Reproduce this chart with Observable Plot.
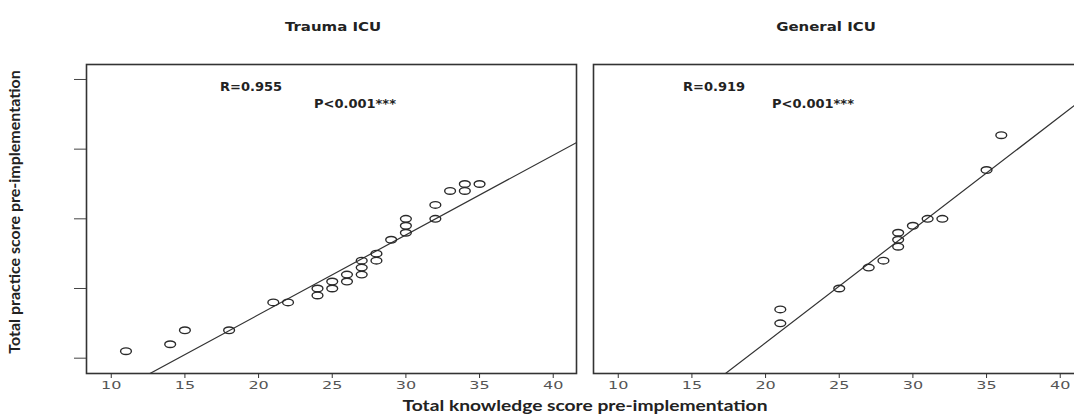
<!DOCTYPE html>
<html>
<head>
<meta charset="utf-8">
<script src="https://cdn.jsdelivr.net/npm/d3@7"></script>
<script src="https://cdn.jsdelivr.net/npm/@observablehq/plot@0.6"></script>
<style>
  html, body { margin: 0; padding: 0; background: #fff; overflow: hidden; }
  #wrap { position: relative; width: 1100px; height: 420px; font-family: "DejaVu Sans", sans-serif; color: #222; }
  .abs { position: absolute; white-space: nowrap; }
  .title { font-weight: bold; font-size: 13px; transform-origin: center; }
  .stat { font-weight: bold; font-size: 13px; }
  .axtitle { font-family: Lato, sans-serif; font-weight: bold; }
</style>
</head>
<body>
<div id="wrap"></div>
<script>
// ---- data ----
const panelTitles = ["Trauma ICU", "General ICU"];
const traumaKnowledge = [11, 14, 15, 18, 21, 22, 24, 24, 25, 25, 26, 26, 27, 27, 27, 28, 28, 29, 30, 30, 30, 32, 32, 33, 34, 34, 35];
const traumaPractice  = [11, 12, 14, 14, 18, 18, 20, 19, 21, 20, 21, 22, 22, 23, 24, 24, 25, 27, 28, 29, 30, 30, 32, 34, 34, 35, 35];
const generalKnowledge = [21, 21, 25, 27, 28, 29, 29, 29, 30, 31, 32, 35, 36];
const generalPractice  = [17, 15, 20, 23, 24, 26, 27, 28, 29, 30, 30, 37, 42];
const traumaFit = [-6.66, 1.145];   // intercept, slope of drawn fit line
const generalFit = [-20.26, 1.624];
const traumaStats = ["R=0.955", "P<0.001***"];
const generalStats = ["R=0.919", "P<0.001***"];
const xTicks = [10, 15, 20, 25, 30, 35, 40];
const yTicks = [10, 20, 30, 40, 50];
const xTitle = "Total knowledge score pre-implementation";
const yTitle = "Total practice score pre-implementation";

const xDomain = [8.32, 41.58];
const yDomain = [7.8, 52.15];

// elliptical open "circle" (the source image is stretched horizontally)
const ellipse = {
  draw(ctx, size) {
    const rx = 5.4, ry = 3.3, k = 0.5523;
    ctx.moveTo(rx, 0);
    ctx.bezierCurveTo(rx, k * ry, k * rx, ry, 0, ry);
    ctx.bezierCurveTo(-k * rx, ry, -rx, k * ry, -rx, 0);
    ctx.bezierCurveTo(-rx, -k * ry, -k * rx, -ry, 0, -ry);
    ctx.bezierCurveTo(k * rx, -ry, rx, -k * ry, rx, 0);
    ctx.closePath();
  }
};

function stretchText(svg, sel, s) {
  svg.querySelectorAll(sel).forEach(t => {
    const w = t.getComputedTextLength();
    if (w > 0) {
      t.setAttribute("textLength", (w * s).toFixed(2));
      t.setAttribute("lengthAdjust", "spacingAndGlyphs");
    }
  });
}

function panel(kx, py, fit, opts) {
  const data = kx.map((k, i) => ({k, p: py[i]}));
  const lineData = xDomain.map(x => ({x, y: fit[0] + fit[1] * x}));
  const marks = [
    Plot.frame({stroke: "#333", strokeWidth: 1.6}),
    Plot.line(lineData, {x: "x", y: "y", stroke: "#333", strokeWidth: 1.2, clip: true}),
    Plot.dot(data, {x: "k", y: "p", symbol: ellipse, r: 4, stroke: "#2a2a2a", strokeWidth: 1.4, fill: "none"}),
    Plot.axisX({ticks: xTicks, tickSize: 5, tickPadding: 3, fontSize: 10, color: "#555", stroke: "#333", label: null})
  ];
  if (opts.yAxis) {
    marks.push(Plot.axisY({ticks: yTicks, tickSize: 12, tickFormat: () => "", stroke: "#444", label: null}));
  }
  return Plot.plot({
    width: opts.width, height: 400,
    marginLeft: opts.ml, marginRight: opts.mr, marginTop: 64, marginBottom: 27,
    x: {domain: xDomain, axis: null},
    y: {domain: yDomain, axis: null},
    style: {fontFamily: "DejaVu Sans, sans-serif", background: "transparent", overflow: "visible"},
    marks
  });
}

const wrap = document.getElementById("wrap");

const left = panel(traumaKnowledge, traumaPractice, traumaFit, {width: 580, ml: 86, mr: 4, yAxis: true});
left.style.position = "absolute"; left.style.left = "0px"; left.style.top = "0px";
wrap.appendChild(left);
stretchText(left, 'g[aria-label="x-axis tick label"] text', 1.6);

const right = panel(generalKnowledge, generalPractice, generalFit, {width: 510, ml: 10, mr: 10, yAxis: false});
right.style.position = "absolute"; right.style.left = "583px"; right.style.top = "0px";
wrap.appendChild(right);
stretchText(right, 'g[aria-label="x-axis tick label"] text', 1.6);

function addText(txt, cls, css) {
  const d = document.createElement("div");
  d.className = "abs " + cls;
  d.textContent = txt;
  Object.assign(d.style, css);
  wrap.appendChild(d);
  return d;
}

// panel titles (centered over each frame)
addText(panelTitles[0], "title", {left: "333px", top: "19px", transform: "translateX(-50%) scaleX(1.15)"});
addText(panelTitles[1], "title", {left: "826px", top: "19px", transform: "translateX(-50%) scaleX(1.15)"});

// statistics
addText(traumaStats[0], "stat", {left: "220px", top: "79px"});
addText(traumaStats[1], "stat", {left: "314px", top: "96px"});
addText(generalStats[0], "stat", {left: "683px", top: "79px"});
addText(generalStats[1], "stat", {left: "772px", top: "96px"});

// axis titles
addText(xTitle, "axtitle", {left: "585px", top: "395px", fontSize: "16px", transform: "translateX(-50%) scaleX(1.2)"});
addText(yTitle, "axtitle", {left: "13px", top: "212px", fontSize: "16px", transform: "translate(-50%,-50%) rotate(-90deg)"});
</script>
</body>
</html>
